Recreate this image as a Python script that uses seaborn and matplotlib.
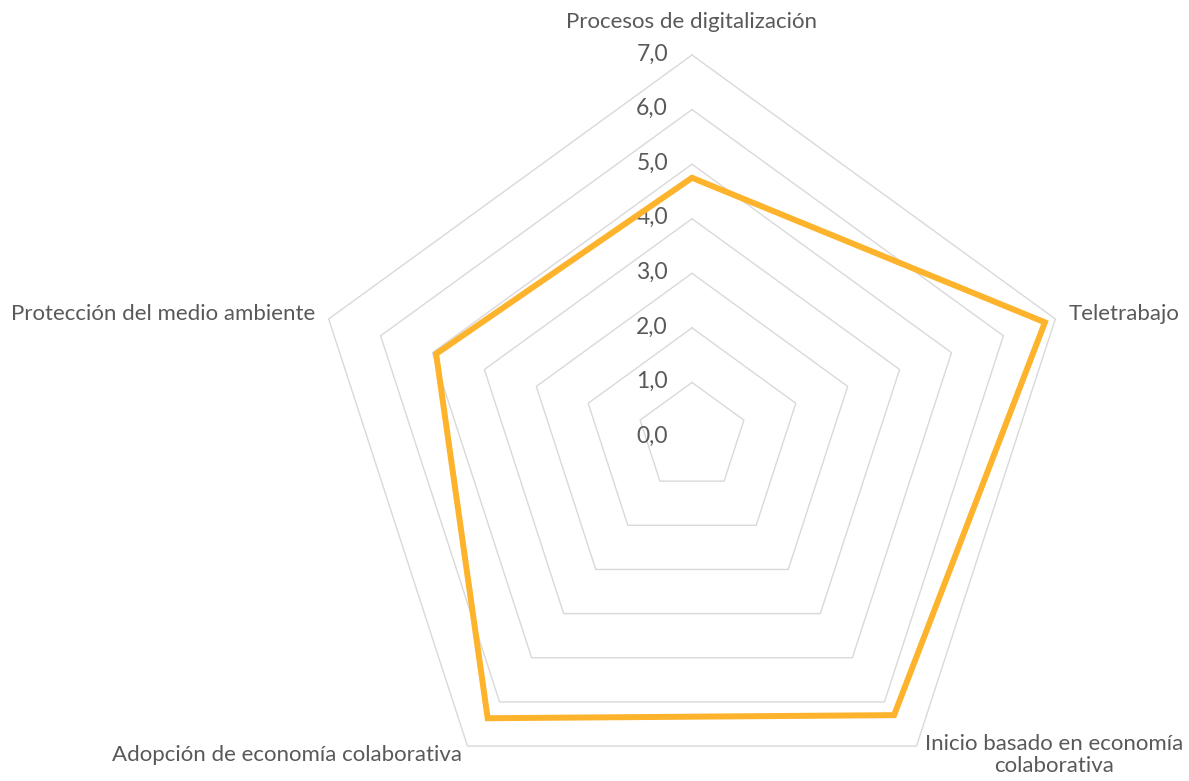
import numpy as np
import pandas as pd
import matplotlib
matplotlib.use("Agg")
import matplotlib.pyplot as plt
import seaborn as sns

# data
categories = [
    "Procesos de digitalización",
    "Teletrabajo",
    "Inicio basado en economía\ncolaborativa",
    "Adopción de economía colaborativa",
    "Protección del medio ambiente",
]
values = [4.75, 6.8, 6.3, 6.37, 4.93]
ring_levels = [1, 2, 3, 4, 5, 6, 7]
tick_labels = ["0,0", "1,0", "2,0", "3,0", "4,0", "5,0", "6,0", "7,0"]

LINE_COLOR = "#FDB32B"
GRID_COLOR = "#D9D9D9"
TEXT_COLOR = "#595959"


def build_frame():
    """Put the series in a small table with its angles."""
    n = len(categories)
    df = pd.DataFrame({"category": categories, "value": values})
    df["theta"] = np.arange(n) * 2 * np.pi / n
    return df


def draw_radar(df):
    sns.set_theme(style="white")
    plt.rcParams["font.family"] = ["Lato", "DejaVu Sans"]

    W, H = 1189, 781
    fig = plt.figure(figsize=(W / 100, H / 100), dpi=100)
    cx, cy, rad = 692, 437, 382
    ax = fig.add_axes([(cx - rad) / W, (H - cy - rad) / H, 2 * rad / W, 2 * rad / H],
                      projection="polar")
    ax.set_theta_offset(np.pi / 2)
    ax.set_theta_direction(-1)
    ax.set_ylim(0, 7)
    ax.grid(False)
    ax.set_xticks([])
    ax.set_yticks([])
    ax.spines["polar"].set_visible(False)
    ax.patch.set_alpha(0)

    theta = np.append(df["theta"].values, df["theta"].values[0])

    # pentagon gridlines
    for lvl in ring_levels:
        ax.plot(theta, [lvl] * len(theta), color=GRID_COLOR, lw=1.0,
                clip_on=False, zorder=1)

    # value labels along the top spoke
    for i, lab in enumerate(tick_labels):
        ax.annotate(lab, xy=(0, i), xytext=(-24, 1), textcoords="offset pixels",
                    ha="right", va="center", fontsize=16.5, color=TEXT_COLOR,
                    annotation_clip=False)

    # the series
    r = np.append(df["value"].values, df["value"].values[0])
    ax.plot(theta, r, color=LINE_COLOR, lw=4.3, solid_joinstyle="miter",
            clip_on=False, zorder=3)

    # category labels around the outer ring
    offsets = [
        ((0, 33), "center"),
        ((13, 5), "left"),
        ((138, -9), "center"),
        ((-5, -9), "right"),
        ((-13, 5), "right"),
    ]
    for (t, cat), (off, ha) in zip(zip(df["theta"], df["category"]), offsets):
        ax.annotate(cat, xy=(t, 7), xytext=off, textcoords="offset pixels",
                    ha=ha, va="center", multialignment="center", fontsize=16,
                    color=TEXT_COLOR, annotation_clip=False, linespacing=1.15)

    fig.savefig("out.png", dpi=100, facecolor="white")
    plt.close(fig)


if __name__ == "__main__":
    draw_radar(build_frame())
